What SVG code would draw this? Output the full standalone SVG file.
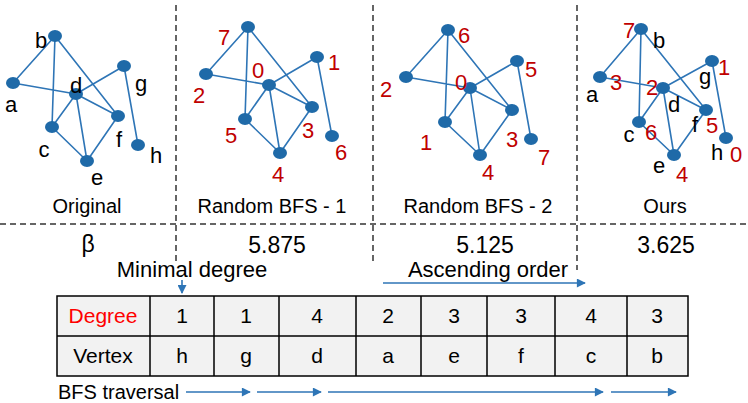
<svg xmlns="http://www.w3.org/2000/svg" width="748" height="403" viewBox="0 0 748 403">
<defs>
<marker id="ah" viewBox="0 0 10 10" refX="9" refY="5" markerWidth="10" markerHeight="9" markerUnits="userSpaceOnUse" orient="auto">
<path d="M0,0 L10,5 L0,10 z" fill="#2e75b6"/>
</marker>
</defs>
<style>
text{font-family:"Liberation Sans",Arial,sans-serif;}
.e{stroke:#2e75b6;stroke-width:1.6;fill:none}
.n{fill:#1f6aa8}
.lb{font-size:22px;fill:#000;text-anchor:middle}
.lr{font-size:22px;fill:#c00000;text-anchor:middle}
.cap{font-size:20px;fill:#000;text-anchor:middle}
.val{font-size:23px;fill:#000;text-anchor:middle}
.dash{stroke:#333;stroke-width:1.5;stroke-dasharray:6,4;fill:none}
.cell{fill:#f2f2f2;stroke:#000;stroke-width:1.5}
.t{font-size:21px;fill:#000;text-anchor:middle}
.arr{stroke:#2e75b6;stroke-width:1.6;fill:none;marker-end:url(#ah)}
</style>

<g id="separators">
<line class="dash" x1="0" y1="224" x2="748" y2="224"/>
<line class="dash" x1="176" y1="5" x2="176" y2="262"/>
<line class="dash" x1="373" y1="5" x2="373" y2="263"/>
<line class="dash" x1="577" y1="5" x2="577" y2="270"/>
</g>

<g id="connectors">
<!-- Original -->
<path class="e" d="M55,36 L13,83 M55,36 L52,127 M55,36 L118,116 M13,83 L76,94 M76,94 L124,66 M76,94 L118,116 M76,94 L52,127 M76,94 L87,161 M52,127 L87,161 M87,161 L118,116 M124,66 L138,145"/>
<!-- Random BFS 1 -->
<path class="e" d="M248,27 L206,74 M248,27 L245,119 M248,27 L312,107 M206,74 L269,85 M269,85 L317,57 M269,85 L312,107 M269,85 L245,119 M269,85 L280,153 M245,119 L280,153 M280,153 L312,107 M317,57 L332,136"/>
<!-- Random BFS 2 -->
<path class="e" d="M448,30 L406,77 M448,30 L445,122 M448,30 L512,110 M406,77 L470,88 M470,88 L517,61 M470,88 L512,110 M470,88 L445,122 M470,88 L480,155 M445,122 L480,155 M480,155 L512,110 M517,61 L531,139"/>
<!-- Ours -->
<path class="e" d="M641,29 L600,77 M641,29 L639,122 M641,29 L706,110 M600,77 L663,88 M663,88 L712,61 M663,88 L706,110 M663,88 L639,122 M663,88 L674,155 M639,122 L674,155 M674,155 L706,110 M712,61 L726,138"/>
<!-- annotations -->
<line class="arr" x1="182" y1="280" x2="182" y2="293"/>
<line class="arr" x1="383" y1="283" x2="585" y2="283"/>
<line class="arr" x1="186" y1="392" x2="250" y2="392"/>
<line class="arr" x1="257" y1="392" x2="321" y2="392"/>
<line class="arr" x1="328" y1="392" x2="603" y2="392"/>
<line class="arr" x1="611" y1="392" x2="676" y2="392"/>
</g>

<g id="graph-original">
<ellipse class="n" cx="55" cy="36" rx="7" ry="6"/>
<ellipse class="n" cx="13" cy="83" rx="7" ry="6"/>
<ellipse class="n" cx="76" cy="94" rx="7" ry="6"/>
<ellipse class="n" cx="124" cy="66" rx="7" ry="6"/>
<ellipse class="n" cx="118" cy="116" rx="7" ry="6"/>
<ellipse class="n" cx="52" cy="127" rx="7" ry="6"/>
<ellipse class="n" cx="87" cy="161" rx="7" ry="6"/>
<ellipse class="n" cx="138" cy="145" rx="7" ry="6"/>
<text class="lb" x="41" y="48">b</text>
<text class="lb" x="11" y="112">a</text>
<text class="lb" x="76" y="93">d</text>
<text class="lb" x="141" y="91">g</text>
<text class="lb" x="119" y="147">f</text>
<text class="lb" x="44" y="157">c</text>
<text class="lb" x="97" y="185">e</text>
<text class="lb" x="156" y="163">h</text>
<text class="cap" x="87" y="213">Original</text>
</g>

<g id="graph-bfs1">
<ellipse class="n" cx="248" cy="27" rx="7" ry="6"/>
<ellipse class="n" cx="206" cy="74" rx="7" ry="6"/>
<ellipse class="n" cx="269" cy="85" rx="7" ry="6"/>
<ellipse class="n" cx="317" cy="57" rx="7" ry="6"/>
<ellipse class="n" cx="312" cy="107" rx="7" ry="6"/>
<ellipse class="n" cx="245" cy="119" rx="7" ry="6"/>
<ellipse class="n" cx="280" cy="153" rx="7" ry="6"/>
<ellipse class="n" cx="332" cy="136" rx="7" ry="6"/>
<text class="lr" x="224" y="45">7</text>
<text class="lr" x="258" y="78">0</text>
<text class="lr" x="334" y="70">1</text>
<text class="lr" x="199" y="103">2</text>
<text class="lr" x="231" y="143">5</text>
<text class="lr" x="308" y="138">3</text>
<text class="lr" x="341" y="160">6</text>
<text class="lr" x="278" y="182">4</text>
<text class="cap" x="272" y="213">Random BFS - 1</text>
</g>

<g id="graph-bfs2">
<ellipse class="n" cx="448" cy="30" rx="7" ry="6"/>
<ellipse class="n" cx="406" cy="77" rx="7" ry="6"/>
<ellipse class="n" cx="470" cy="88" rx="7" ry="6"/>
<ellipse class="n" cx="517" cy="61" rx="7" ry="6"/>
<ellipse class="n" cx="512" cy="110" rx="7" ry="6"/>
<ellipse class="n" cx="445" cy="122" rx="7" ry="6"/>
<ellipse class="n" cx="480" cy="155" rx="7" ry="6"/>
<ellipse class="n" cx="531" cy="139" rx="7" ry="6"/>
<text class="lr" x="464" y="43">6</text>
<text class="lr" x="531" y="77">5</text>
<text class="lr" x="461" y="90">0</text>
<text class="lr" x="386" y="97">2</text>
<text class="lr" x="426" y="150">1</text>
<text class="lr" x="512" y="147">3</text>
<text class="lr" x="544" y="165">7</text>
<text class="lr" x="488" y="180">4</text>
<text class="cap" x="478" y="213">Random BFS - 2</text>
</g>

<g id="graph-ours">
<ellipse class="n" cx="641" cy="29" rx="7" ry="6"/>
<ellipse class="n" cx="600" cy="77" rx="7" ry="6"/>
<ellipse class="n" cx="663" cy="88" rx="7" ry="6"/>
<ellipse class="n" cx="712" cy="61" rx="7" ry="6"/>
<ellipse class="n" cx="706" cy="110" rx="7" ry="6"/>
<ellipse class="n" cx="639" cy="122" rx="7" ry="6"/>
<ellipse class="n" cx="674" cy="155" rx="7" ry="6"/>
<ellipse class="n" cx="726" cy="138" rx="7" ry="6"/>
<text class="lr" x="629" y="38">7</text>
<text class="lb" x="659" y="48">b</text>
<text class="lr" x="616" y="90">3</text>
<text class="lb" x="592" y="102">a</text>
<text class="lr" x="652" y="95">2</text>
<text class="lb" x="674" y="112">d</text>
<text class="lb" x="705" y="84">g</text>
<text class="lr" x="724" y="75">1</text>
<text class="lb" x="695" y="132">f</text>
<text class="lr" x="712" y="133">5</text>
<text class="lb" x="629" y="142">c</text>
<text class="lr" x="651" y="140">6</text>
<text class="lb" x="717" y="160">h</text>
<text class="lr" x="736" y="162">0</text>
<text class="lb" x="659" y="173">e</text>
<text class="lr" x="682" y="182">4</text>
<text class="cap" x="665" y="213">Ours</text>
</g>

<g id="beta-row">
<text class="val" x="88" y="252">β</text>
<text class="val" x="277" y="253">5.875</text>
<text class="val" x="485" y="253">5.125</text>
<text class="val" x="666" y="253">3.625</text>
</g>

<g id="annotations">
<text x="192" y="277" style="font-size:22px;text-anchor:middle">Minimal degree</text>
<text x="488" y="277" style="font-size:22px;text-anchor:middle">Ascending order</text>
<text x="58" y="399" style="font-size:20px">BFS traversal</text>
</g>

<g id="table">
<rect class="cell" x="57" y="296" width="631" height="80"/>
<line stroke="#000" stroke-width="1.5" x1="57" y1="336" x2="688" y2="336"/>
<path stroke="#000" stroke-width="1.5" d="M150,296V376 M214,296V376 M279,296V376 M356,296V376 M421,296V376 M487,296V376 M555,296V376 M627,296V376"/>
<text class="t" x="103" y="323" style="fill:#ff0000">Degree</text>
<text class="t" x="182" y="323">1</text>
<text class="t" x="246" y="323">1</text>
<text class="t" x="317" y="323">4</text>
<text class="t" x="388" y="323">2</text>
<text class="t" x="454" y="323">3</text>
<text class="t" x="521" y="323">3</text>
<text class="t" x="591" y="323">4</text>
<text class="t" x="657" y="323">3</text>
<text class="t" x="103" y="363">Vertex</text>
<text class="t" x="182" y="363">h</text>
<text class="t" x="246" y="363">g</text>
<text class="t" x="317" y="363">d</text>
<text class="t" x="388" y="363">a</text>
<text class="t" x="454" y="363">e</text>
<text class="t" x="521" y="363">f</text>
<text class="t" x="591" y="363">c</text>
<text class="t" x="657" y="363">b</text>
</g>
</svg>
